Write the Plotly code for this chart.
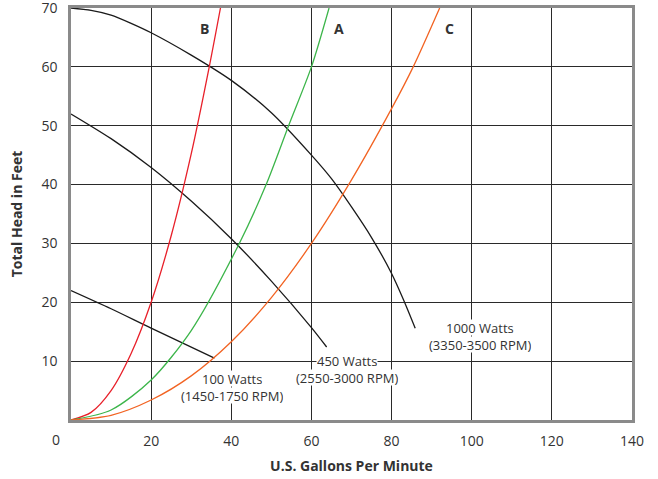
import plotly.graph_objects as go

# System curves (flow in US GPM, head in feet)
b_x = [0, 5, 10, 15, 20, 25, 30, 34.5, 37.3]
b_y = [0, 1.3, 5, 11.3, 20, 31.3, 45.2, 60, 70]

a_x = [0, 10, 20, 30, 42, 48.7, 54.3, 60, 64.4]
a_y = [0, 1.7, 6.8, 15.2, 30, 40, 50, 60, 70]

c_x = [0, 10, 20, 30, 40, 50, 60, 70, 80, 85.4, 92]
c_y = [0, 0.8, 3.4, 7.5, 13.3, 20.8, 30, 40.8, 52.9, 60, 70]

# Pump curves
w1000_x = [0, 5, 10, 15, 20, 30, 40, 50, 60, 65, 70, 75, 80, 83, 85.9]
w1000_y = [70, 69.6, 68.8, 67.4, 65.8, 62, 57.7, 52.2, 45, 41, 36.2, 31, 24.9, 20.4, 15.6]

w450_x = [0, 10, 20, 30, 40, 50, 60, 63.8]
w450_y = [52, 47.8, 42.9, 37.2, 30.8, 23.6, 15.7, 12.4]

w100_x = [0, 10, 20, 35.8]
w100_y = [22, 18.9, 15.6, 10.5]

x_ticks = [20, 40, 60, 80, 100, 120, 140]
y_ticks = [10, 20, 30, 40, 50, 60, 70]

FONT = "Open Sans"
TXT = "#333333"

fig = go.Figure()

def add(x, y, color):
    fig.add_trace(go.Scatter(x=x, y=y, mode="lines",
                             line=dict(color=color, width=1.3, shape="spline", smoothing=0.8),
                             showlegend=False, hoverinfo="skip"))

add(w1000_x, w1000_y, "#1a1a1a")
add(w450_x, w450_y, "#1a1a1a")
add(w100_x, w100_y, "#1a1a1a")
add(b_x, b_y, "#e8202a")
add(a_x, a_y, "#3cb54a")
add(c_x, c_y, "#f26322")

ann = []
def label(text, x, y, size=13, bold=False, bg=True):
    d = dict(x=x, y=y, xref="x", yref="y", text=(f"<b>{text}</b>" if bold else text), showarrow=False,
             font=dict(family=FONT, size=size, color=TXT),
             bgcolor="white" if bg else "rgba(0,0,0,0)", borderpad=0)
    if bg:
        d["height"] = 15
    ann.append(d)

label("1000 Watts", 102, 15.8)
label("(3350-3500 RPM)", 102, 12.9)
label("450 Watts", 69, 10.19)
label("(2550-3000 RPM)", 69, 7.3)
label("100 Watts", 40.25, 7.1)
label("(1450-1750 RPM)", 40.25, 4.2)
label("B", 33.25, 66.6, size=14, bold=True, bg=False)
label("A", 67, 66.6, size=14, bold=True, bg=False)
label("C", 94.5, 66.6, size=14, bold=True, bg=False)
ann.append(dict(x=-0.0267, y=-0.0485, xref="paper", yref="paper", text="0", showarrow=False,
                xanchor="center", yanchor="middle",
                font=dict(family=FONT, size=14, color=TXT)))

fig.update_layout(
    width=658, height=479,
    margin=dict(l=71, r=26, t=8, b=59, autoexpand=False),
    paper_bgcolor="white", plot_bgcolor="white",
    annotations=ann,
    font=dict(family=FONT, size=13, color=TXT),
    xaxis=dict(range=[0, 140], tickvals=x_ticks, ticktext=[str(v) for v in x_ticks],
               showgrid=True, gridcolor="#2a2a2a", gridwidth=1.3, zeroline=False,
               showline=True, linecolor="#8a8a8a", linewidth=2.5, mirror=True, ticks="",
               ticklabelstandoff=6, automargin=False, ticklabeloverflow="allow",
               tickfont=dict(family=FONT, size=14, color=TXT),
               title=dict(text="<b>U.S. Gallons Per Minute</b>", font=dict(family=FONT, size=14, color=TXT), standoff=13)),
    yaxis=dict(range=[0, 70], tickvals=y_ticks, ticktext=[str(v) for v in y_ticks],
               showgrid=True, gridcolor="#2a2a2a", gridwidth=1.3, zeroline=False,
               showline=True, linecolor="#8a8a8a", linewidth=2.5, mirror=True, ticks="",
               ticklabelstandoff=8, automargin=False, ticklabeloverflow="allow",
               tickfont=dict(family=FONT, size=14, color=TXT),
               title=dict(text="<b>Total Head in Feet</b>", font=dict(family=FONT, size=14, color=TXT), standoff=16)),
)

fig.write_html("out.html", config={"displayModeBar": False},
               post_script="document.body.style.margin='0';document.body.style.padding='0';")
